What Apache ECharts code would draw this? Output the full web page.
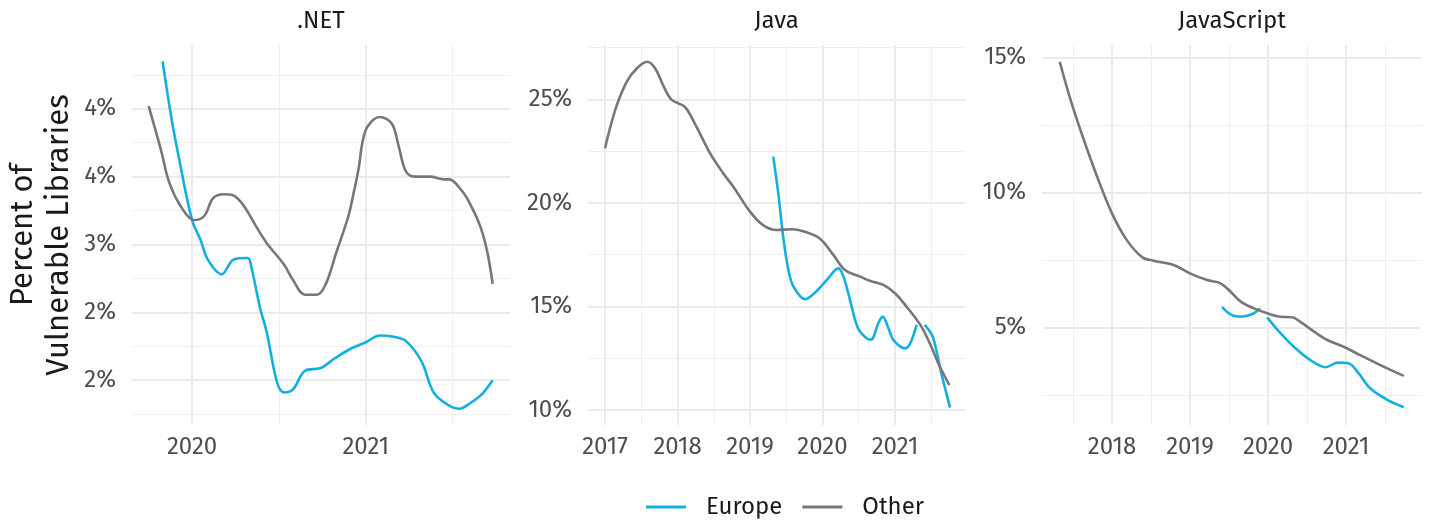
<!DOCTYPE html>
<html>
<head>
<meta charset="utf-8">
<script src="https://cdn.jsdelivr.net/npm/echarts@6/dist/echarts.min.js"></script>
<style>
  html, body { margin: 0; padding: 0; background: #fff; }
  #main { width: 1430px; height: 520px; }
</style>
</head>
<body>
<div id="main"></div>
<script>
// ---- data (x = decimal year, y = percent) ----
var netOtherX = [2019.75, 2019.82, 2019.87, 2019.94, 2020.01, 2020.07, 2020.12, 2020.18, 2020.24, 2020.30, 2020.37, 2020.43, 2020.53, 2020.58, 2020.65, 2020.72, 2020.77, 2020.83, 2020.90, 2020.93, 2020.96, 2020.98, 2021.01, 2021.08, 2021.15, 2021.19, 2021.23, 2021.28, 2021.37, 2021.45, 2021.48, 2021.55, 2021.60, 2021.66, 2021.70, 2021.73];
var netOtherY = [4.02, 3.70, 3.45, 3.27, 3.18, 3.21, 3.34, 3.37, 3.36, 3.28, 3.13, 3.01, 2.85, 2.74, 2.63, 2.63, 2.71, 2.94, 3.21, 3.38, 3.57, 3.75, 3.87, 3.94, 3.89, 3.72, 3.54, 3.50, 3.50, 3.48, 3.48, 3.40, 3.30, 3.13, 2.94, 2.71];
var netEuropeX = [2019.83, 2019.88, 2019.93, 2020.00, 2020.05, 2020.09, 2020.17, 2020.24, 2020.32, 2020.34, 2020.39, 2020.43, 2020.49, 2020.53, 2020.58, 2020.65, 2020.74, 2020.82, 2020.91, 2021.00, 2021.08, 2021.16, 2021.23, 2021.32, 2021.39, 2021.47, 2021.54, 2021.60, 2021.67, 2021.73];
var netEuropeY = [4.35, 3.94, 3.60, 3.18, 3.03, 2.89, 2.78, 2.89, 2.90, 2.84, 2.54, 2.35, 1.98, 1.91, 1.93, 2.07, 2.09, 2.16, 2.23, 2.28, 2.33, 2.32, 2.29, 2.14, 1.91, 1.82, 1.79, 1.83, 1.90, 2.00];

var javaOtherX = [2017.00, 2017.14, 2017.30, 2017.44, 2017.58, 2017.69, 2017.81, 2017.92, 2018.10, 2018.26, 2018.45, 2018.63, 2018.77, 2019.00, 2019.18, 2019.37, 2019.58, 2019.78, 2019.97, 2020.15, 2020.31, 2020.52, 2020.66, 2020.84, 2021.00, 2021.16, 2021.35, 2021.48, 2021.62, 2021.75];
var javaOtherY = [22.64, 24.48, 25.85, 26.50, 26.81, 26.50, 25.61, 24.97, 24.64, 23.68, 22.39, 21.43, 20.78, 19.58, 18.93, 18.69, 18.73, 18.58, 18.26, 17.49, 16.76, 16.44, 16.23, 16.04, 15.64, 14.99, 14.11, 13.22, 12.09, 11.21];
var javaEuropeX = [2019.32, 2019.39, 2019.46, 2019.53, 2019.60, 2019.76, 2019.92, 2020.06, 2020.22, 2020.29, 2020.38, 2020.49, 2020.61, 2020.67, 2020.77, 2020.83, 2020.91, 2020.98, 2021.14, 2021.21, 2021.30, 2021.35, 2021.41, 2021.51, 2021.57, 2021.64, 2021.76];
var javaEuropeY = [22.23, 20.46, 18.30, 16.76, 15.96, 15.35, 15.75, 16.28, 16.84, 16.44, 15.31, 13.95, 13.46, 13.40, 14.19, 14.51, 13.95, 13.38, 12.98, 13.22, 14.11, null, 14.11, 13.62, 12.90, 11.77, 10.12];

var jsOtherX = [2017.33, 2017.47, 2017.64, 2017.81, 2018.00, 2018.19, 2018.39, 2018.53, 2018.79, 2019.00, 2019.22, 2019.39, 2019.52, 2019.65, 2019.82, 2019.99, 2020.16, 2020.31, 2020.41, 2020.59, 2020.76, 2020.97, 2021.18, 2021.44, 2021.74];
var jsOtherY = [14.84, 13.42, 11.94, 10.58, 9.22, 8.23, 7.59, 7.47, 7.31, 7.00, 6.75, 6.63, 6.32, 5.95, 5.70, 5.52, 5.39, 5.37, 5.21, 4.84, 4.53, 4.28, 3.97, 3.60, 3.20];
var jsEuropeX = [2019.41, 2019.52, 2019.62, 2019.72, 2019.82, 2019.90, 2019.94, 2019.99, 2020.16, 2020.33, 2020.54, 2020.74, 2020.89, 2021.03, 2021.16, 2021.31, 2021.53, 2021.74];
var jsEuropeY = [5.76, 5.48, 5.40, 5.42, 5.52, 5.70, null, 5.37, 4.78, 4.28, 3.79, 3.52, 3.69, 3.67, 3.30, 2.74, 2.31, 2.04];

// ---- ticks and tick labels ----
var netYTicks = [2, 2.5, 3, 3.5, 4];
var netYLabels = ['2%', '2%', '3%', '4%', '4%'];
var netYMinor = [1.75, 2.25, 2.75, 3.25, 3.75, 4.25];
var netXTicks = [2020, 2021];
var netXMinor = [2020.5, 2021.5];

var javaYTicks = [10, 15, 20, 25];
var javaYLabels = ['10%', '15%', '20%', '25%'];
var javaYMinor = [12.5, 17.5, 22.5, 27.5];
var javaXTicks = [2017, 2018, 2019, 2020, 2021];
var javaXMinor = [2017.5, 2018.5, 2019.5, 2020.5, 2021.5];

var jsYTicks = [5, 10, 15];
var jsYLabels = ['5%', '10%', '15%'];
var jsYMinor = [2.5, 7.5, 12.5];
var jsXTicks = [2018, 2019, 2020, 2021];
var jsXMinor = [2017.5, 2018.5, 2019.5, 2020.5, 2021.5];

var panelNames = ['.NET', 'Java', 'JavaScript'];
var seriesNames = ['Europe', 'Other'];

var FONT = '"Fira Sans", "Open Sans", "Noto Sans", sans-serif';
var EUROPE = '#12b0e0';
var OTHER = '#777777';

var panels = [
  { name: panelNames[0], left: 132, width: 378, xr: [2019.654, 2021.83], yr: [1.67, 4.47],
    xt: netXTicks, xm: netXMinor, yt: netYTicks, yl: netYLabels, ym: netYMinor,
    europe: [netEuropeX, netEuropeY], other: [netOtherX, netOtherY] },
  { name: panelNames[1], left: 588, width: 377, xr: [2016.765, 2021.966], yr: [9.28, 27.62],
    xt: javaXTicks, xm: javaXMinor, yt: javaYTicks, yl: javaYLabels, ym: javaYMinor,
    europe: [javaEuropeX, javaEuropeY], other: [javaOtherX, javaOtherY] },
  { name: panelNames[2], left: 1042, width: 380, xr: [2017.103, 2021.974], yr: [1.38, 15.46],
    xt: jsXTicks, xm: jsXMinor, yt: jsYTicks, yl: jsYLabels, ym: jsYMinor,
    europe: [jsEuropeX, jsEuropeY], other: [jsOtherX, jsOtherY] }
];

function pairs(xs, ys) {
  return xs.map(function (x, i) { return [x, ys[i]]; });
}

function labelOf(ticks, labels) {
  return function (v) {
    for (var i = 0; i < ticks.length; i++) {
      if (Math.abs(ticks[i] - v) < 1e-6) return labels[i];
    }
    return '';
  };
}

var grids = [], xAxes = [], yAxes = [], series = [], graphics = [];

panels.forEach(function (p, i) {
  grids.push({ left: p.left, width: p.width, top: 45, height: 380, outerBoundsMode: 'none' });

  var xLabels = p.xt.map(function (v) { return String(v); });
  // major x axis
  xAxes.push({
    type: 'value', gridIndex: i, min: p.xr[0], max: p.xr[1],
    axisLine: { show: false },
    axisTick: { show: false, customValues: p.xt },
    axisLabel: { customValues: p.xt, formatter: labelOf(p.xt, xLabels), color: '#4d4d4d',
      fontSize: 24, fontFamily: FONT, margin: 10 },
    splitLine: { show: true, lineStyle: { color: '#ebebeb', width: 2 } }
  });
  // minor x axis
  xAxes.push({
    type: 'value', gridIndex: i, min: p.xr[0], max: p.xr[1], position: 'bottom',
    axisLine: { show: false },
    axisTick: { show: false, customValues: p.xm },
    axisLabel: { show: false },
    splitLine: { show: true, lineStyle: { color: '#efefef', width: 1 } }
  });
  yAxes.push({
    type: 'value', gridIndex: i, min: p.yr[0], max: p.yr[1], position: 'left',
    axisLine: { show: false },
    axisTick: { show: false, customValues: p.yt },
    axisLabel: { customValues: p.yt, formatter: labelOf(p.yt, p.yl), color: '#4d4d4d',
      fontSize: 24, fontFamily: FONT, margin: 16 },
    splitLine: { show: true, lineStyle: { color: '#ebebeb', width: 2 } }
  });
  yAxes.push({
    type: 'value', gridIndex: i, min: p.yr[0], max: p.yr[1], position: 'left',
    axisLine: { show: false },
    axisTick: { show: false, customValues: p.ym },
    axisLabel: { show: false },
    splitLine: { show: true, lineStyle: { color: '#efefef', width: 1 } }
  });

  [['Europe', p.europe, EUROPE], ['Other', p.other, OTHER]].forEach(function (s) {
    series.push({
      name: s[0], type: 'line', xAxisIndex: 2 * i, yAxisIndex: 2 * i,
      data: pairs(s[1][0], s[1][1]),
      smooth: 0.35, showSymbol: false, symbol: 'none', connectNulls: false,
      lineStyle: { color: s[2], width: 2.6 }, itemStyle: { color: s[2] },
      z: s[0] === 'Other' ? 3 : 2
    });
  });

  graphics.push({
    type: 'text', x: p.left + p.width / 2, y: 21,
    style: { text: p.name, font: '24px ' + FONT, fill: '#1a1a1a', textAlign: 'center', textVerticalAlign: 'middle' }
  });
});

graphics.push({
  type: 'text', x: 41, y: 235, rotation: Math.PI / 2,
  style: { text: 'Percent of\nVulnerable Libraries', font: '31px ' + FONT, fill: '#1a1a1a',
    textAlign: 'center', textVerticalAlign: 'middle', lineHeight: 36 }
});

var chart = echarts.init(document.getElementById('main'), null, { renderer: 'canvas' });
chart.setOption({
  animation: false,
  backgroundColor: '#ffffff',
  grid: grids,
  xAxis: xAxes,
  yAxis: yAxes,
  legend: {
    data: seriesNames, left: 641, top: 490, icon: 'rect', itemWidth: 40, itemHeight: 3,
    itemGap: 20,
    textStyle: { fontSize: 24, fontFamily: FONT, color: '#1a1a1a', padding: [0, 0, 0, 15] }
  },
  graphic: graphics,
  series: series
});
</script>
</body>
</html>
